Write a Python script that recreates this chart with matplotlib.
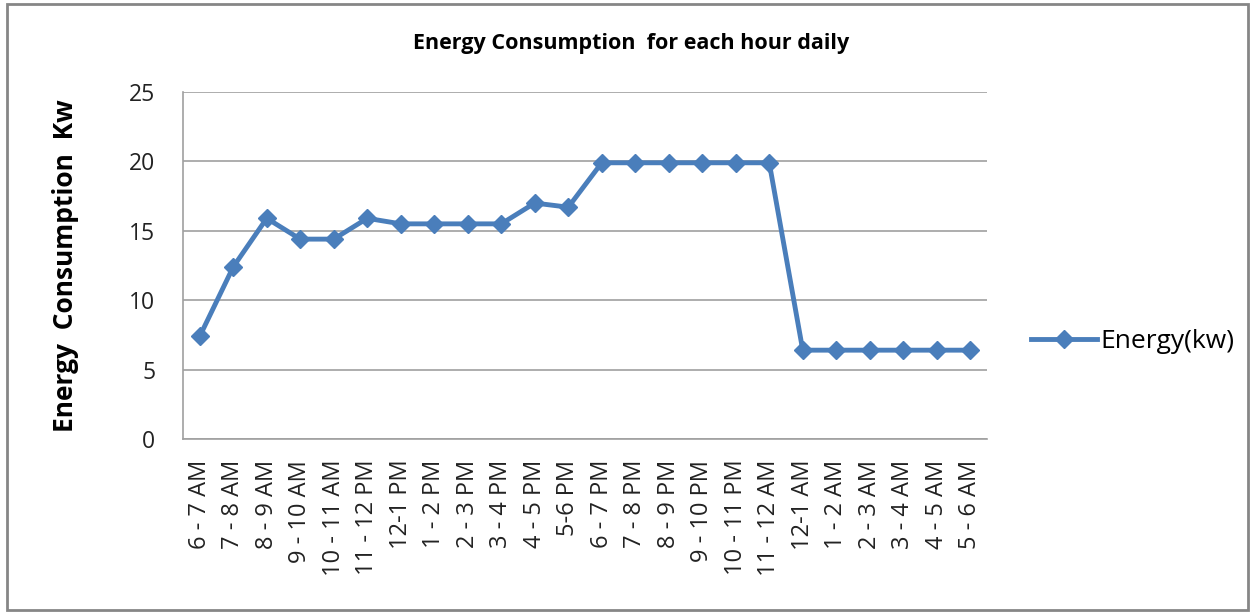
import matplotlib.pyplot as plt
from matplotlib.patches import Rectangle

plt.rcParams['font.family'] = ['Open Sans', 'DejaVu Sans']

# data
hours = ['6 - 7 AM', '7 - 8 AM', '8 - 9 AM', '9 - 10 AM', '10 - 11 AM', '11 - 12 PM',
         '12-1 PM', '1 - 2 PM', '2 - 3 PM', '3 - 4 PM', '4 - 5 PM', '5-6 PM',
         '6 - 7 PM', '7 - 8 PM', '8 - 9 PM', '9 - 10 PM', '10 - 11 PM', '11 - 12 AM',
         '12-1 AM', '1 - 2 AM', '2 - 3 AM', '3 - 4 AM', '4 - 5 AM', '5 - 6 AM']
energy = [7.4, 12.4, 15.9, 14.4, 14.4, 15.9, 15.5, 15.5, 15.5, 15.5, 17.0, 16.7,
          19.9, 19.9, 19.9, 19.9, 19.9, 19.9, 6.4, 6.4, 6.4, 6.4, 6.4, 6.4]
yticks = [0, 5, 10, 15, 20, 25]

fig = plt.figure(figsize=(12.55, 6.14), dpi=100)
ax = fig.add_axes([183/1255, 1 - 439/614, 804/1255, 347/614])

# outer chart border
fig.patches.append(Rectangle((7/1255, 4/614), 1241/1255, 606/614, transform=fig.transFigure,
                             fill=False, edgecolor='#868686', linewidth=2))

x = range(len(hours))
ax.plot(x, energy, color='#4A7EBB', linewidth=3.5, marker='D', markersize=9,
        label='Energy(kw)')

ax.set_xlim(-0.5, len(hours) - 0.5)
ax.set_ylim(0, 25)
ax.set_yticks(yticks)
ax.set_xticks(list(x))
ax.set_xticklabels(hours, rotation=90, fontsize=17, color='#222222')
ax.tick_params(axis='y', labelsize=16.5, length=0, pad=20, labelcolor='#222222')
ax.tick_params(axis='x', length=0, pad=15)
ax.grid(axis='y', color='#A0A0A0', linewidth=1.2)
ax.set_axisbelow(True)
for s in ['top', 'right']:
    ax.spines[s].set_visible(False)
for s in ['left', 'bottom']:
    ax.spines[s].set_color('#A0A0A0')
    ax.spines[s].set_linewidth(1.2)

ax.set_ylabel('Energy  Consumption  Kw', fontsize=19, fontweight='bold', labelpad=36)
fig.text(631/1255, 1 - 44/614, 'Energy Consumption  for each hour daily', ha='center',
         va='center', fontsize=15.5, fontweight='bold')

ax.legend(loc='center left', bbox_to_anchor=(1.025, 0.28), frameon=False, fontsize=19,
          handlelength=2.5, handletextpad=0.15)

fig.savefig('out.png', dpi=100)
